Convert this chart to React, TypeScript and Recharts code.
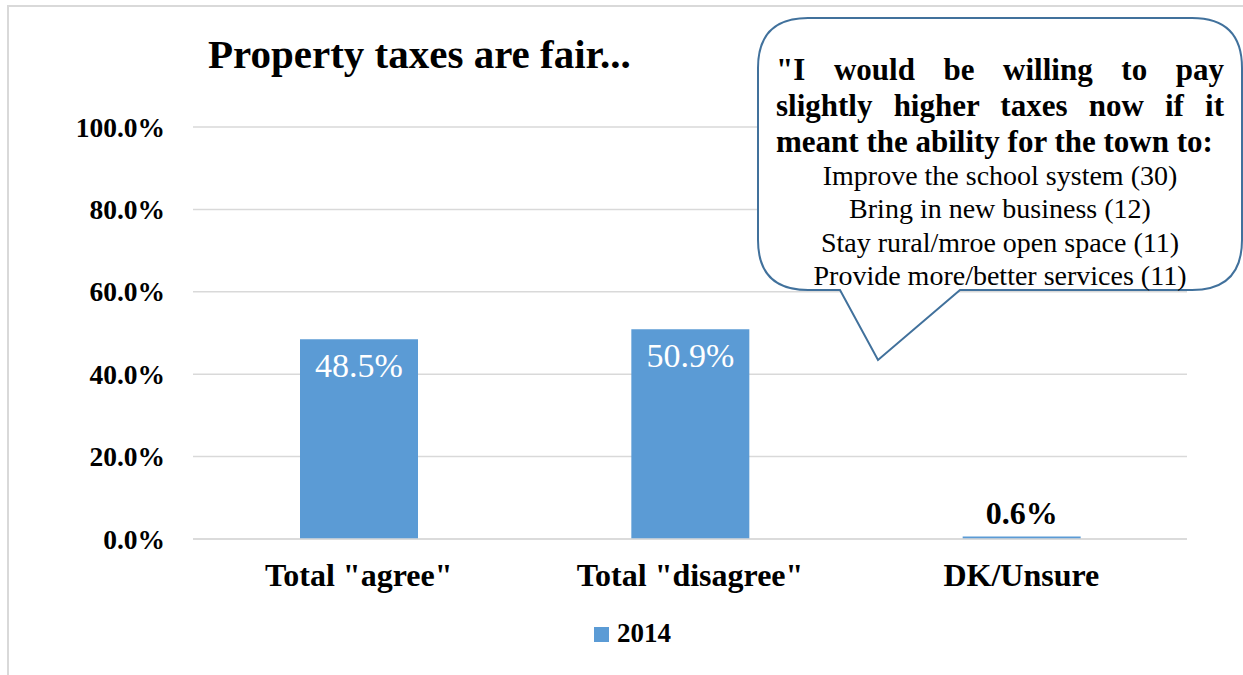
import { BarChart, Bar, XAxis, YAxis, CartesianGrid, Legend, LabelList } from 'recharts';

const FONT = '"Liberation Serif", "Times New Roman", serif';

const categories = ['Total "agree"', 'Total "disagree"', 'DK/Unsure'];
const values2014 = [48.5, 50.9, 0.6];
const yTicks = [0, 20, 40, 60, 80, 100];
const seriesName = '2014';
const chartTitle = 'Property taxes are fair...';
const calloutHeading = [
    '"I would be willing to pay',
    'slightly higher taxes now if it',
    'meant the ability for the town to:',
];
const calloutItems = [
    'Improve the school system (30)',
    'Bring in new business (12)',
    'Stay rural/mroe open space (11)',
    'Provide more/better services (11)',
];

const data = categories.map((category, i) => ({ category, v2014: values2014[i] }));

const BAR_COLOR = '#5B9BD5';

function YTick({ x, y, payload }: any) {
    return (
        <text x={x} y={y} dy="0.35em" textAnchor="end" fontFamily={FONT} fontWeight="bold" fontSize={27.5} fill="#000">
            {`${Number(payload.value).toFixed(1)}%`}
        </text>
    );
}

function XTick({ x, y, payload }: any) {
    return (
        <text x={x} y={y + 47} textAnchor="middle" fontFamily={FONT} fontWeight="bold" fontSize={32} fill="#000">
            {payload.value}
        </text>
    );
}

function ValueLabel(props: any) {
    const x = Number(props.x);
    const y = Number(props.y);
    const width = Number(props.width);
    const value = Number(props.value);
    const cx = x + width / 2;
    if (value >= 5) {
        return (
            <text x={cx} y={y + 38} textAnchor="middle" fontFamily={FONT} fontSize={34} fill="#fff">
                {`${value.toFixed(1)}%`}
            </text>
        );
    }
    return (
        <text x={cx} y={y - 13} textAnchor="middle" fontFamily={FONT} fontWeight="bold" fontSize={32} fill="#000">
            {`${value.toFixed(1)}%`}
        </text>
    );
}

function LegendContent() {
    return (
        <div style={{ position: 'relative', height: 0 }}>
            <div style={{ position: 'absolute', left: 594, top: 9, width: 15, height: 15, background: BAR_COLOR }} />
            <div
                style={{
                    position: 'absolute',
                    left: 617,
                    top: 0,
                    fontFamily: FONT,
                    fontWeight: 'bold',
                    fontSize: 27,
                    lineHeight: '30px',
                    color: '#000',
                    whiteSpace: 'nowrap',
                }}
            >
                {seriesName}
            </div>
        </div>
    );
}

export default function App() {
    return (
        <div style={{ position: 'absolute', left: 0, top: 0, width: 1243, height: 675, overflow: 'hidden', background: '#fff' }}>
            <div
                style={{
                    position: 'absolute',
                    left: 7,
                    top: 5,
                    width: 1260,
                    height: 700,
                    border: '2px solid #D9D9D9',
                }}
            />
            <BarChart
                width={1243}
                height={675}
                data={data}
                margin={{ top: 127, right: 56, left: 0, bottom: 76 }}
            >
                <CartesianGrid horizontal vertical={false} stroke="#D9D9D9" strokeWidth={1.5} />
                <XAxis
                    dataKey="category"
                    height={60}
                    tickSize={0}
                    tickMargin={0}
                    axisLine={{ stroke: '#D9D9D9', strokeWidth: 1.5 }}
                    tickLine={false}
                    tick={<XTick />}
                    interval={0}
                />
                <YAxis
                    width={193}
                    domain={[0, 100]}
                    ticks={yTicks}
                    tickSize={0}
                    tickMargin={28}
                    axisLine={false}
                    tickLine={false}
                    tick={<YTick />}
                />
                <Legend
                    verticalAlign="bottom"
                    content={<LegendContent />}
                    wrapperStyle={{ position: 'absolute', left: 0, top: 618, width: 1243, height: 0 }}
                />
                <Bar dataKey="v2014" name={seriesName} fill={BAR_COLOR} barSize={118} isAnimationActive={false}>
                    <LabelList dataKey="v2014" content={<ValueLabel />} />
                </Bar>
            </BarChart>

            <svg
                width={1243}
                height={675}
                style={{ position: 'absolute', left: 0, top: 0, pointerEvents: 'none' }}
            >
                <text x={208} y={68} fontFamily={FONT} fontWeight="bold" fontSize={41} fill="#000">
                    {chartTitle}
                </text>
                <path
                    d="M 808 18 L 1192 18 Q 1242 18 1242 68 L 1242 240 Q 1242 290 1192 290 L 960 290 L 878 360 L 840 290 L 808 290 Q 758 290 758 240 L 758 68 Q 758 18 808 18 Z"
                    fill="#fff"
                    stroke="#41719C"
                    strokeWidth={2}
                />
            </svg>

            <div
                style={{
                    position: 'absolute',
                    left: 776,
                    top: 51.5,
                    width: 448,
                    fontFamily: FONT,
                    fontWeight: 'bold',
                    fontSize: 31,
                    lineHeight: '36px',
                    color: '#000',
                }}
            >
                {calloutHeading.map((line, i) => (
                    <div
                        key={i}
                        style={{
                            textAlign: i < 2 ? 'justify' : 'left',
                            textAlignLast: i < 2 ? 'justify' : 'left',
                            whiteSpace: 'nowrap',
                            height: 36,
                        }}
                    >
                        {line}
                    </div>
                ))}
            </div>
            <div
                style={{
                    position: 'absolute',
                    left: 758,
                    top: 159,
                    width: 484,
                    fontFamily: FONT,
                    fontSize: 28,
                    lineHeight: '33.3px',
                    color: '#000',
                    textAlign: 'center',
                }}
            >
                {calloutItems.map((line, i) => (
                    <div key={i} style={{ whiteSpace: 'nowrap' }}>
                        {line}
                    </div>
                ))}
            </div>
        </div>
    );
}
